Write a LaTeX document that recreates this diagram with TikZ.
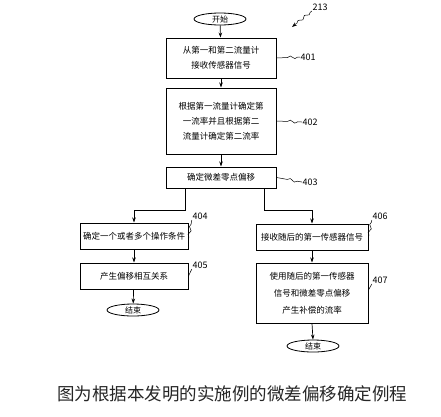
\documentclass[tikz,border=0pt]{standalone}
\usepackage{fontspec}
\setmainfont{Noto Sans CJK SC}
\usetikzlibrary{arrows.meta,shapes.geometric,decorations.pathmorphing}
\begin{document}
\begin{tikzpicture}[x=1pt,y=-1pt,
 box/.style={draw,line width=1pt,inner sep=0pt,font=\fontsize{8.5}{15}\selectfont,align=center},
 term/.style={draw,ellipse,line width=0.8pt,inner sep=0pt,minimum width=52pt,minimum height=12pt,font=\fontsize{8}{9}\selectfont},
 flow/.style={line width=0.7pt,-{Stealth[length=5pt,width=3.5pt]}},
 conn/.style={line width=0.7pt},
 tag/.style={font=\fontsize{9}{10}\selectfont,inner sep=0.5pt},
 lead/.style={line width=0.5pt,decorate,decoration={snake,segment length=9pt,amplitude=1.4pt,pre length=11pt,post length=1pt}},
 leadup/.style={line width=0.5pt,decorate,decoration={snake,segment length=8pt,amplitude=1.2pt,pre length=2pt,post length=1pt}}]
\useasboundingbox (0,0) rectangle (441,416);

% terminals
\node[term] (start) at (220,19) {开始};
\node[term] (endL) at (133,310) {结束};
\node[term] (endR) at (313,346) {结束};

% boxes
\node[box,minimum width=110pt,minimum height=40pt] (b401) at (221,58) {从第一和第二流量计\\接收传感器信号};
\node[box,minimum width=110pt,minimum height=66pt] (b402) at (221,121) {根据第一流量计确定第\\一流率并且根据第二\\流量计确定第二流率};
\node[box,minimum width=110pt,minimum height=21pt] (b403) at (221,177.5) {确定微差零点偏移};
\node[box,minimum width=108pt,minimum height=26pt] (b404) at (134,236) {确定一个或者多个操作条件};
\node[box,minimum width=108pt,minimum height=26pt] (b405) at (134,276) {产生偏移相互关系};
\node[box,minimum width=112pt,minimum height=26pt] (b406) at (312,237) {接收随后的第一传感器信号};
\node[box,minimum width=112pt,minimum height=60pt,font=\fontsize{8.5}{17}\selectfont] (b407) at (312,293) {使用随后的第一传感器\\信号和微差零点偏移\\产生补偿的流率};

% branch corners
\coordinate (sL) at (185,188);
\coordinate (kL1) at (185,210);
\coordinate (kL2) at (134,210);
\coordinate (sR) at (264,188);
\coordinate (kR1) at (264,210);
\coordinate (kR2) at (312,210);

% flow
\draw[flow] (start) -- (b401);
\draw[flow] (b401) -- (b402);
\draw[flow] (b402) -- (b403);
\draw[flow] (sL) -- (kL1) -- (kL2) -- (b404.north);
\draw[flow] (sR) -- (kR1) -- (kR2) -- (b406.north);
\draw[flow] (b404) -- (b405);
\draw[flow] (b405) -- (endL);
\draw[flow] (b406) -- (b407);
\draw[flow] (b407.south) -- (endR.north);

% reference labels
\node[tag] (l401) at (308,57) {401};
\node[tag] (l402) at (310,122) {402};
\node[tag] (l403) at (310,182) {403};
\node[tag] (l404) at (200,216) {404};
\node[tag] (l405) at (200,265) {405};
\node[tag] (l406) at (380,216) {406};
\node[tag] (l407) at (380,280) {407};
\node[tag] (l213) at (320,7) {213};
\coordinate (a213) at (292,27);

\draw[lead] (b401.east) -- (l401.west);
\draw[lead] (b402.east) -- (l402.west);
\draw[lead] (b403.east) -- (l403.west);
\draw[leadup] ([yshift=-3pt]b404.east) -- (l404.south west);
\draw[leadup] (b405.east) -- (l405.south west);
\draw[leadup] (b406.east) -- (l406.south west);
\draw[leadup] ([yshift=3pt]b407.east) -- (l407.south west);
\draw[line width=0.5pt,-{Stealth[length=5pt,width=3.5pt]},decorate,decoration={snake,segment length=8pt,amplitude=1.3pt,pre length=2pt,post length=6pt}] (l213.south west) -- (a213);

% caption
\node[font=\fontsize{17.5}{20}\selectfont,text=black!85,inner sep=0pt] (cap) at (232,394) {图为根据本发明的实施例的微差偏移确定例程};
\end{tikzpicture}
\end{document}
